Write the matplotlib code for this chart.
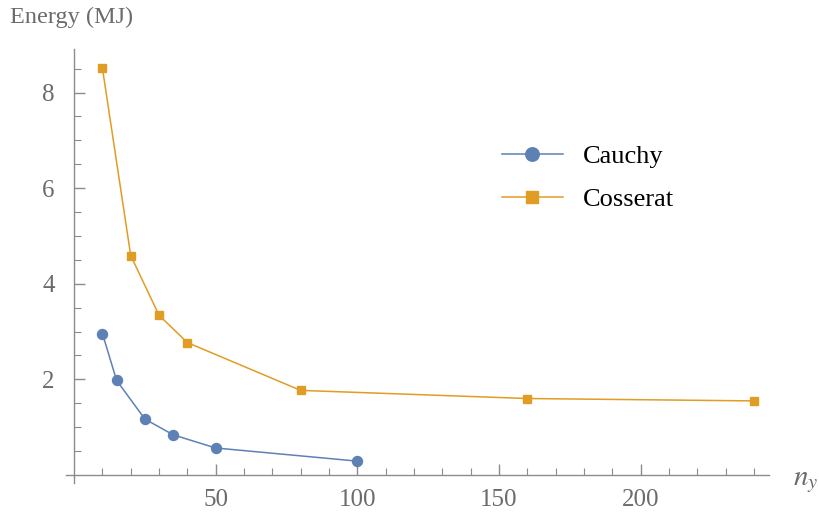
import matplotlib.pyplot as plt

# data
cauchy_n = [10, 15, 25, 35, 50, 100]
cauchy_e = [2.96, 1.98, 1.17, 0.84, 0.565, 0.29]
cosserat_n = [10, 20, 30, 40, 80, 160, 240]
cosserat_e = [8.51, 4.59, 3.34, 2.77, 1.77, 1.60, 1.55]

blue = "#5E81B5"
orange = "#E19C24"
gray = "#6b6b6b"
axis_gray = "#8c8c8c"

plt.rcParams["font.family"] = "serif"
plt.rcParams["font.serif"] = ["Liberation Serif", "Times New Roman", "DejaVu Serif"]
plt.rcParams["mathtext.fontset"] = "stix"

fig = plt.figure(figsize=(8.2, 5.21), dpi=100)
ax = fig.add_axes([0.080, 0.0727, 0.8583, 0.834])

ax.plot(cauchy_n, cauchy_e, color=blue, lw=1.1, marker="o", ms=7.2,
        label="Cauchy", zorder=3)
ax.plot(cosserat_n, cosserat_e, color=orange, lw=1.1, marker="s", ms=6,
        label="Cosserat", zorder=3)

ax.set_xlim(-3, 245.5)
ax.set_ylim(-0.17, 8.92)

for s in ["top", "right"]:
    ax.spines[s].set_visible(False)
ax.spines["left"].set_position(("data", 0))
ax.spines["bottom"].set_position(("data", 0))
for s in ["left", "bottom"]:
    ax.spines[s].set_color(axis_gray)
    ax.spines[s].set_linewidth(1.0)

ax.set_xticks([50, 100, 150, 200])
ax.set_yticks([2, 4, 6, 8])
ax.set_xticks([v for v in range(10, 241, 10) if v % 50 != 0], minor=True)
ax.set_yticks([v * 0.5 for v in range(1, 18) if v % 4 != 0], minor=True)

ax.tick_params(which="major", direction="in", length=8, width=1,
               color=axis_gray, labelsize=18, labelcolor=gray, pad=10)
ax.tick_params(which="minor", direction="in", length=5, width=0.8,
               color=axis_gray)
ax.tick_params(axis="y", which="major", pad=14)

fig.text(0.012, 0.967, "Energy (MJ)", fontsize=17.5, color=gray,
         ha="left", va="center")
fig.text(0.982, 0.074, "$n_y$", fontsize=21, color=gray,
         ha="center", va="center")

ax.legend(loc="upper left", bbox_to_anchor=(0.605, 0.804), frameon=False,
          fontsize=19, handlelength=2.3, handletextpad=0.75,
          labelspacing=0.75, markerscale=1.35, borderaxespad=0)

fig.savefig("out.png", dpi=100)
